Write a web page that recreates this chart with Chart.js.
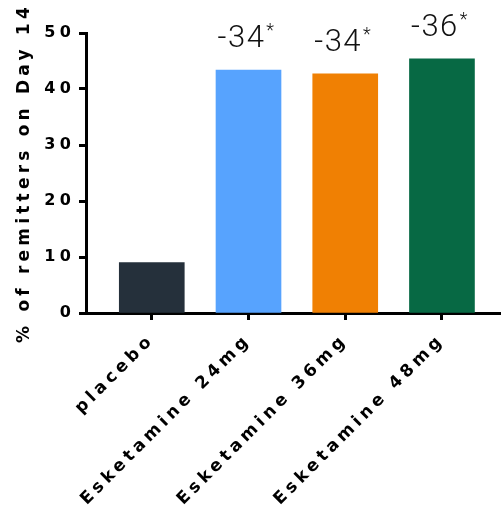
<!DOCTYPE html>
<html><head><meta charset="utf-8">
<script src="https://cdn.jsdelivr.net/npm/chart.js@4/dist/chart.umd.min.js"></script>
<style>html,body{margin:0;padding:0;background:#fff}canvas{display:block}</style>
</head><body>
<canvas id="c" width="502" height="512"></canvas>
<script>
const categories = ['placebo', 'Esketamine 24mg', 'Esketamine 36mg', 'Esketamine 48mg'];
const remitters = [9.0, 43.4, 42.7, 45.4];
const annotations = ['', '-34', '-34', '-36'];
const barColors = ['#25303b', '#57a3fe', '#f08003', '#076944'];
const yTicks = [0, 10, 20, 30, 40, 50];
const yTitle = '% of remitters on Day 14';

const tickFont = {family: 'DejaVu Sans', weight: 'bold', size: 16};
const labelFont = {family: 'DejaVu Sans', weight: 'bold', size: 17};

const spacingPlugin = {
  id: 'spacing',
  beforeLayout(chart) { chart.ctx.letterSpacing = '4.2px'; },
  beforeDraw(chart) { chart.ctx.letterSpacing = '4.2px'; },
  afterDatasetsDraw(chart) {
    const ctx = chart.ctx;
    const meta = chart.getDatasetMeta(0);
    ctx.save();
    ctx.letterSpacing = '1.5px';
    ctx.fillStyle = '#111';
    ctx.textBaseline = 'alphabetic';
    ctx.textAlign = 'left';
    meta.data.forEach((bar, i) => {
      const txt = annotations[i];
      if (!txt) return;
      ctx.font = '300 31px Roboto';
      const w1 = ctx.measureText(txt).width;
      ctx.font = '300 18px Roboto';
      const w2 = ctx.measureText('*').width;
      const total = w1 + 1 + w2;
      const x0 = bar.x - total / 2 - 2;
      const yb = bar.y - 23;
      ctx.font = '300 31px Roboto';
      ctx.fillText(txt, x0, yb);
      ctx.font = '300 18px Roboto';
      ctx.fillText('*', x0 + w1 + 1, yb - 11);
    });
    ctx.restore();
  }
};

new Chart(document.getElementById('c'), {
  type: 'bar',
  data: {
    datasets: [{
      data: remitters.map((v, i) => ({x: i, y: v})),
      backgroundColor: barColors,
      borderWidth: 0,
      barThickness: 65
    }]
  },
  options: {
    responsive: false,
    animation: false,
    layout: {padding: {top: 33, right: 2, left: 0, bottom: 0}},
    plugins: {legend: {display: false}, tooltip: {enabled: false}},
    scales: {
      x: {
        type: 'linear', min: -0.68, max: 3.6, offset: false,
        afterBuildTicks: s => { s.ticks = categories.map((_, i) => ({value: i})); },
        ticks: {autoSkip: false, minRotation: 45, maxRotation: 45, color: '#000', font: labelFont, padding: 10,
          callback: v => categories[v]},
        grid: {offset: false, drawOnChartArea: false, drawTicks: true, tickLength: 7, tickWidth: 3, tickColor: '#000'},
        border: {display: true, color: '#000', width: 3},
        afterFit: s => { s.height = 199; }
      },
      y: {
        min: 0, max: 50,
        afterBuildTicks: s => { s.ticks = yTicks.map(v => ({value: v})); },
        ticks: {color: '#000', font: tickFont, padding: 4},
        grid: {drawOnChartArea: false, drawTicks: true, tickLength: 7, tickWidth: 3, tickColor: '#000'},
        border: {display: true, color: '#000', width: 3},
        title: {display: true, text: yTitle, color: '#000', font: labelFont, padding: {top: 14, bottom: 0}},
        afterFit: s => { s.width = 86; }
      }
    }
  },
  plugins: [spacingPlugin]
});
</script>
</body></html>
